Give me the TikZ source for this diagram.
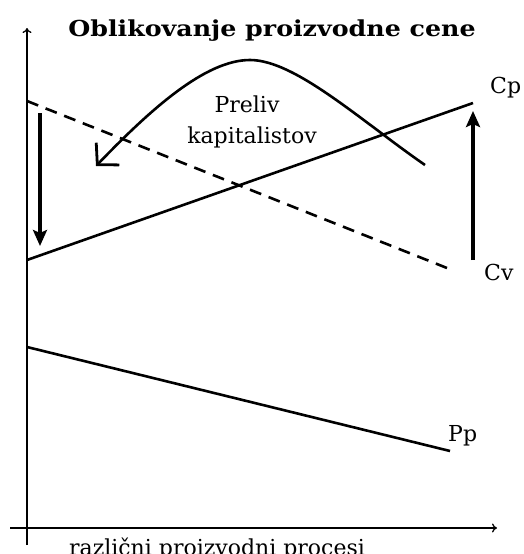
\documentclass[tikz,border=0pt]{standalone}
\usepackage{fontspec}
\setmainfont{DejaVu Serif}
\usetikzlibrary{arrows.meta}
\begin{document}
\begin{tikzpicture}[x=1pt,y=-1pt,
  axis/.style={line width=1.3pt,-{To[length=5pt,width=9pt]}},
  curveline/.style={line width=2.6pt},
  bigarrow/.style={line width=4.5pt,-{Stealth[length=16pt,width=14pt,inset=3pt]}},
  lbl/.style={font=\fontsize{22}{31}\selectfont,inner sep=0pt},
  ttl/.style={font=\fontsize{22}{22}\selectfont\bfseries,inner sep=0pt}]
\useasboundingbox (0,0) rectangle (524,554);
\clip (0,0) rectangle (524,554);
\fill[white] (0,0) rectangle (524,554);
% axes
\coordinate (ybot) at (27,545);
\coordinate (ytop) at (27,28);
\coordinate (xl) at (10,528);
\coordinate (xr) at (497,528);
\draw[axis] (ybot) -- (ytop);
\draw[axis] (xl) -- (xr);
% title
\node[ttl,anchor=base] (title) at (272,36) {\scalebox{1.15}[1]{Oblikovanje proizvodne cene}};
% lines
\coordinate (cv0) at (27,101);
\coordinate (cv1) at (447,268);
\draw[curveline,dash pattern=on 12pt off 8pt] (cv0) -- (cv1);
\coordinate (cp0) at (27,260);
\coordinate (cp1) at (473,103);
\draw[curveline] (cp0) -- (cp1);
\coordinate (pp0) at (27,347);
\coordinate (pp1) at (450,451);
\draw[curveline] (pp0) -- (pp1);
% labels
\node[lbl,anchor=base west] (cp) at (490,93) {Cp};
\node[lbl,anchor=base west] (cv) at (484,280) {Cv};
\node[lbl,anchor=base west] (pp) at (448,441) {Pp};
% thick arrows
\coordinate (d0) at (40,113);
\coordinate (d1) at (40,246);
\draw[bigarrow] (d0) -- (d1);
\coordinate (u0) at (473,260);
\coordinate (u1) at (473,111);
\draw[bigarrow] (u0) -- (u1);
% curve
\coordinate (c0) at (425,165);
\coordinate (cm) at (250,60);
\coordinate (c1) at (96,166);
\draw[curveline,-{Straight Barb[length=15pt,width=32pt,line width=2.8pt]}]
  (c0) .. controls (360,120) and (295,60) .. (cm)
       .. controls (205,60) and (150,110) .. (c1);
\node[lbl,anchor=base] (preliv) at (247,112) {Preliv};
\node[lbl,anchor=base] (kapit) at (252,143) {kapitalistov};
% x label
\node[lbl,anchor=base] (xlab) at (217,555) {različni proizvodni procesi};
\end{tikzpicture}
\end{document}
